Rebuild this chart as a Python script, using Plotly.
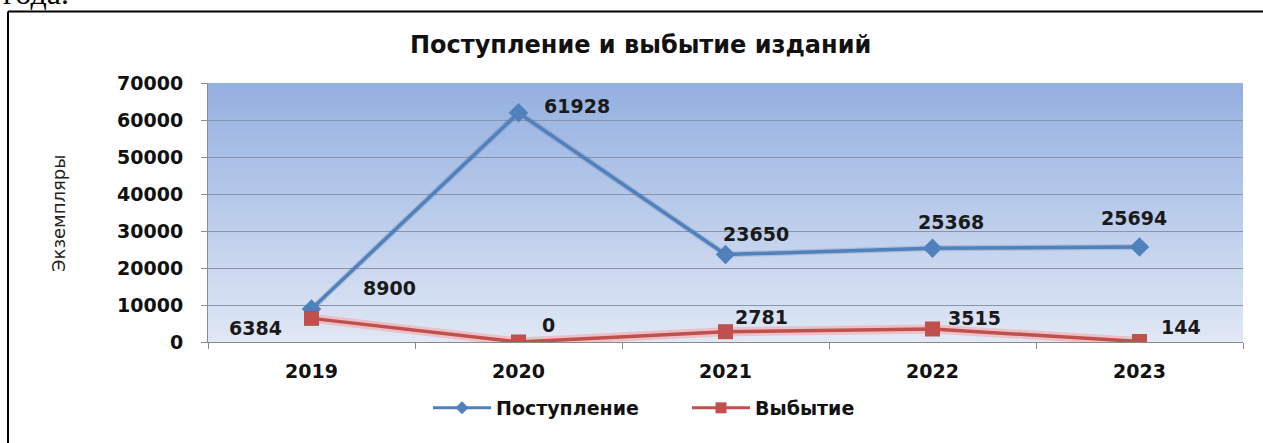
import plotly.graph_objects as go

years = ["2019", "2020", "2021", "2022", "2023"]
postuplenie = [8900, 61928, 23650, 25368, 25694]
vybytie = [6384, 0, 2781, 3515, 144]
series_names = ["Поступление", "Выбытие"]
y_ticks = [0, 10000, 20000, 30000, 40000, 50000, 60000, 70000]

title_text = "Поступление и выбытие изданий"
y_title = "Экземпляры"
page_text = "года."

# label pixel offsets (style)
off_post = [(78, 21), (58, 7), (30, 21), (18, 26), (-6, 29)]
off_vyb = [(-56, -10), (30, 17), (36, 15), (42, 11), (41, 14)]

W, H = 1263, 443
L, R, T, B = 208, 1243, 83, 342
pw, ph = R - L, B - T


def px(x):
    return (x - L) / pw


def py(y):
    return (B - y) / ph


FONT = "DejaVu Sans"
BLUE = "#4F81BD"
RED = "#C0504D"
idx = list(range(len(years)))

fig = go.Figure()

# soft glow / shadow under the lines
fig.add_trace(go.Scatter(x=idx, y=vybytie, mode="lines",
                         line=dict(color="rgba(245,160,160,0.55)", width=9),
                         hoverinfo="skip", showlegend=False))
fig.add_trace(go.Scatter(x=idx, y=postuplenie, mode="lines",
                         line=dict(color="rgba(60,80,120,0.18)", width=6),
                         hoverinfo="skip", showlegend=False))

fig.add_trace(go.Scatter(x=idx, y=postuplenie, name=series_names[0],
                         mode="lines+markers", showlegend=False,
                         line=dict(color=BLUE, width=3.5),
                         marker=dict(symbol="diamond", size=15, color=BLUE)))
fig.add_trace(go.Scatter(x=idx, y=vybytie, name=series_names[1],
                         mode="lines+markers", showlegend=False,
                         line=dict(color=RED, width=3.5),
                         marker=dict(symbol="square", size=15, color=RED)))
# legend entries with small symbols
fig.add_trace(go.Scatter(x=[None], y=[None], name=series_names[0],
                         mode="lines+markers",
                         line=dict(color=BLUE, width=3),
                         marker=dict(symbol="diamond", size=10, color=BLUE)))
fig.add_trace(go.Scatter(x=[None], y=[None], name=series_names[1],
                         mode="lines+markers",
                         line=dict(color=RED, width=3),
                         marker=dict(symbol="square", size=11, color=RED)))

LBL = dict(family=FONT, size=19, color="#1a1a1a", weight="bold")
ann = []
for i, v, (dx, dy) in zip(idx, postuplenie, off_post):
    ann.append(dict(x=i, y=v, xref="x", yref="y", text=str(v), showarrow=False,
                    xshift=dx, yshift=dy, font=LBL))
for i, v, (dx, dy) in zip(idx, vybytie, off_vyb):
    ann.append(dict(x=i, y=v, xref="x", yref="y", text=str(v), showarrow=False,
                    xshift=dx, yshift=dy, font=LBL))

ann.append(dict(x=px(640), y=py(45), xref="paper", yref="paper", text=title_text,
                showarrow=False, xanchor="center", yanchor="middle",
                font=dict(family=FONT, size=24, color="#111111", weight="bold")))
ann.append(dict(x=px(58), y=py(214), xref="paper", yref="paper", text=y_title,
                showarrow=False, textangle=-90, xanchor="center", yanchor="middle",
                font=dict(family=FONT, size=18, color="#222222")))
ann.append(dict(x=px(1), y=py(13), xref="paper", yref="paper", text=page_text,
                showarrow=False, xanchor="left", yanchor="bottom",
                font=dict(family="Liberation Serif", size=32, color="#000000")))

shapes = []
# gradient plot background
n = 80
top_c = (148, 176, 224)
bot_c = (224, 231, 245)
for i in range(n):
    t = i / (n - 1)
    c = tuple(int(round(top_c[k] + (bot_c[k] - top_c[k]) * t)) for k in range(3))
    shapes.append(dict(type="rect", xref="paper", yref="paper",
                       x0=0, x1=1, y0=max(0, 1 - (i + 1.6) / n), y1=1 - i / n,
                       fillcolor="rgb(%d,%d,%d)" % c, line=dict(width=0),
                       layer="below"))
# document frame (top and left border)
shapes.append(dict(type="line", xref="paper", yref="paper",
                   x0=px(8), x1=px(1270), y0=py(11.5), y1=py(11.5),
                   line=dict(color="#000000", width=2)))
shapes.append(dict(type="line", xref="paper", yref="paper",
                   x0=px(8), x1=px(8), y0=py(11.5), y1=py(450),
                   line=dict(color="#000000", width=2)))

fig.update_layout(
    width=W, height=H,
    margin=dict(l=L, r=W - R, t=T, b=H - B),
    paper_bgcolor="white",
    plot_bgcolor="rgba(0,0,0,0)",
    annotations=ann,
    shapes=shapes,
    showlegend=True,
    legend=dict(orientation="h", x=px(428), y=py(408), xanchor="left",
                yanchor="middle", bgcolor="rgba(0,0,0,0)",
                font=dict(family=FONT, size=19, color="#111111", weight="bold"),
                itemwidth=58, entrywidth=186, entrywidthmode="pixels",
                tracegroupgap=0),
    xaxis=dict(tickmode="array", tickvals=idx, ticktext=years,
               ticks="", showgrid=False, showline=True,
               linecolor="#8a8a8a", linewidth=1,
               tickfont=dict(family=FONT, size=19, color="#111111", weight="bold"),
               ticklabelstandoff=12,
               minor=dict(tickmode="array", tickvals=[-0.5, 0.5, 1.5, 2.5, 3.5, 4.5],
                          ticks="outside", ticklen=6, tickcolor="#8a8a8a",
                          showgrid=False),
               range=[-0.5, 4.5], zeroline=False),
    yaxis=dict(range=[0, 70000], tickvals=y_ticks,
               ticktext=[str(v) for v in y_ticks],
               ticks="outside", ticklen=6, tickcolor="#8a8a8a",
               showline=True, linecolor="#8a8a8a", linewidth=1,
               showgrid=True, gridcolor="#8795ad", gridwidth=1,
               zeroline=False, ticklabelstandoff=14,
               tickfont=dict(family=FONT, size=19, color="#111111", weight="bold")),
)

fig.write_html("out.html", config={"displayModeBar": False},
               post_script="document.body.style.margin='0px';")
